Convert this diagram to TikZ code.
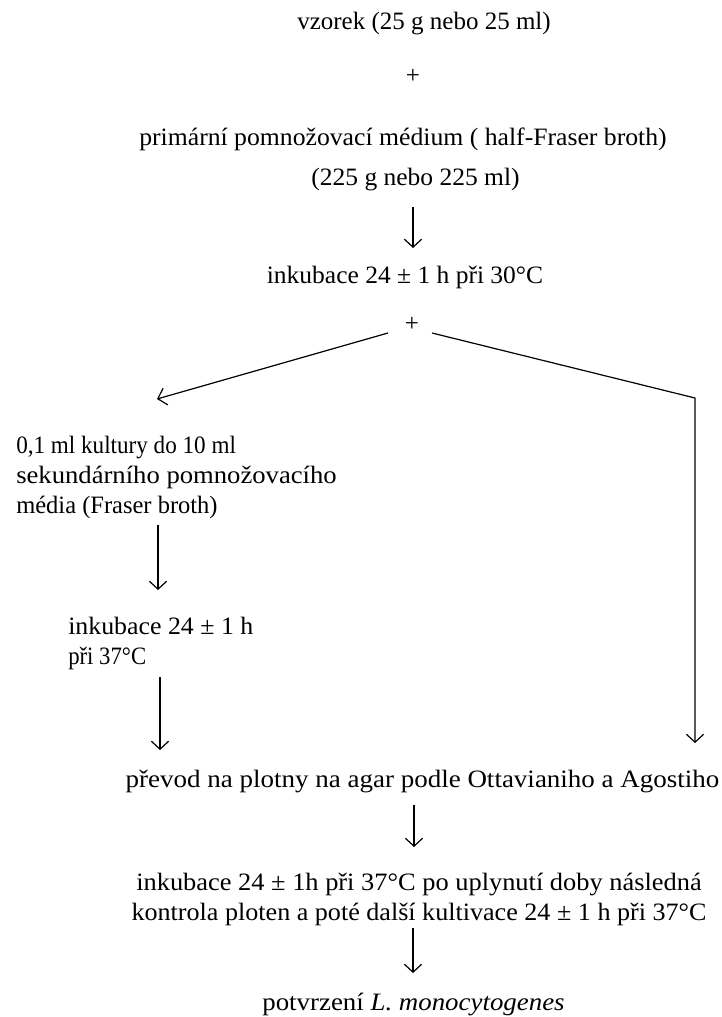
\documentclass[tikz,border=0pt]{standalone}
\usepackage{graphicx}
\usepackage{fontspec}
\setmainfont{Liberation Serif}
\usetikzlibrary{arrows.meta,calc}
\newcommand\hsx[2]{\scalebox{#1}[1]{#2}}
\tikzset{
  txt/.style={inner sep=0pt, font=\fontsize{18.75pt}{22.5pt}\selectfont},
  one/.style={txt, text height=12.75pt, text depth=3.75pt, anchor=base},
  multi/.style={txt},
  arr/.style={line width=0.9pt, -{Straight Barb[length=6pt,width=13pt,line width=0.9pt]}}
}
\begin{document}
\begin{tikzpicture}[x=0.75pt,y=-0.75pt]
\useasboundingbox (0,0) rectangle (721,1017);
\node[one] (vz) at (424,29) {vzorek (25 g nebo 25 ml)};
\node[one] (p1) at (413,83) {+};
\node[one] (pr) at (403,145) {\hsx{1.028}{primární pomnožovací médium ( half-Fraser broth)}};
\node[one] (n225) at (415.5,185) {\hsx{1.02}{(225 g nebo 225 ml)}};
\node[one] (ink30) at (405,283) {\hsx{1.02}{inkubace 24 ± 1 h při 30°C}};
\node[one] (p2) at (412,331) {+};
\node[multi, anchor=north west, align=left] (lt) at (16,436) {\hsx{0.925}{0,1 ml kultury do 10 ml}\\\hsx{1.066}{sekundárního pomnožovacího}\\\hsx{0.98}{média (Fraser broth)}};
\node[multi, anchor=north west, align=left] (ink37) at (68,617) {\hsx{1.034}{inkubace 24 ± 1 h}\\\hsx{0.91}{při 37°C}};
\node[one] (pv) at (422.5,787) {\hsx{1.08}{převod na plotny na agar podle Ottavianiho a Agostiho}};
\node[multi, anchor=north, align=center] (ink2) at (419,873) {\hsx{1.056}{inkubace 24 ± 1h při 37°C po uplynutí doby následná}\\\hsx{1.044}{kontrola ploten a poté další kultivace 24 ± 1 h při 37°C}};
\node[one] (pt) at (413.5,1010) {\hsx{1.075}{potvrzení \textit{L. monocytogenes}}};

\draw[arr] ($(n225.base)+(-2.5,22)$) -- ($(ink30.base)+(8,-35)$);
\draw[arr] ($(p2.base)+(-24,2)$) -- ($(lt.north west)+(141,-37)$);
\coordinate (rc) at ($(p2.base)+(283,67)$);
\draw[arr] ($(p2.base)+(20,2)$) -- (rc) -- ($(pv.base)+(272.5,-44)$);
\draw[arr] ($(lt.north west)+(142,89)$) -- ($(ink37.north west)+(90,-27)$);
\draw[arr] ($(ink37.north west)+(92,60)$) -- ($(pv.base)+(-262.5,-37)$);
\draw[arr] ($(pv.base)+(-8.5,18)$) -- ($(ink2.north)+(-5,-26)$);
\draw[arr] ($(ink2.north)+(-6,55)$) -- ($(pt.base)+(-0.5,-37)$);
\end{tikzpicture}
\end{document}
